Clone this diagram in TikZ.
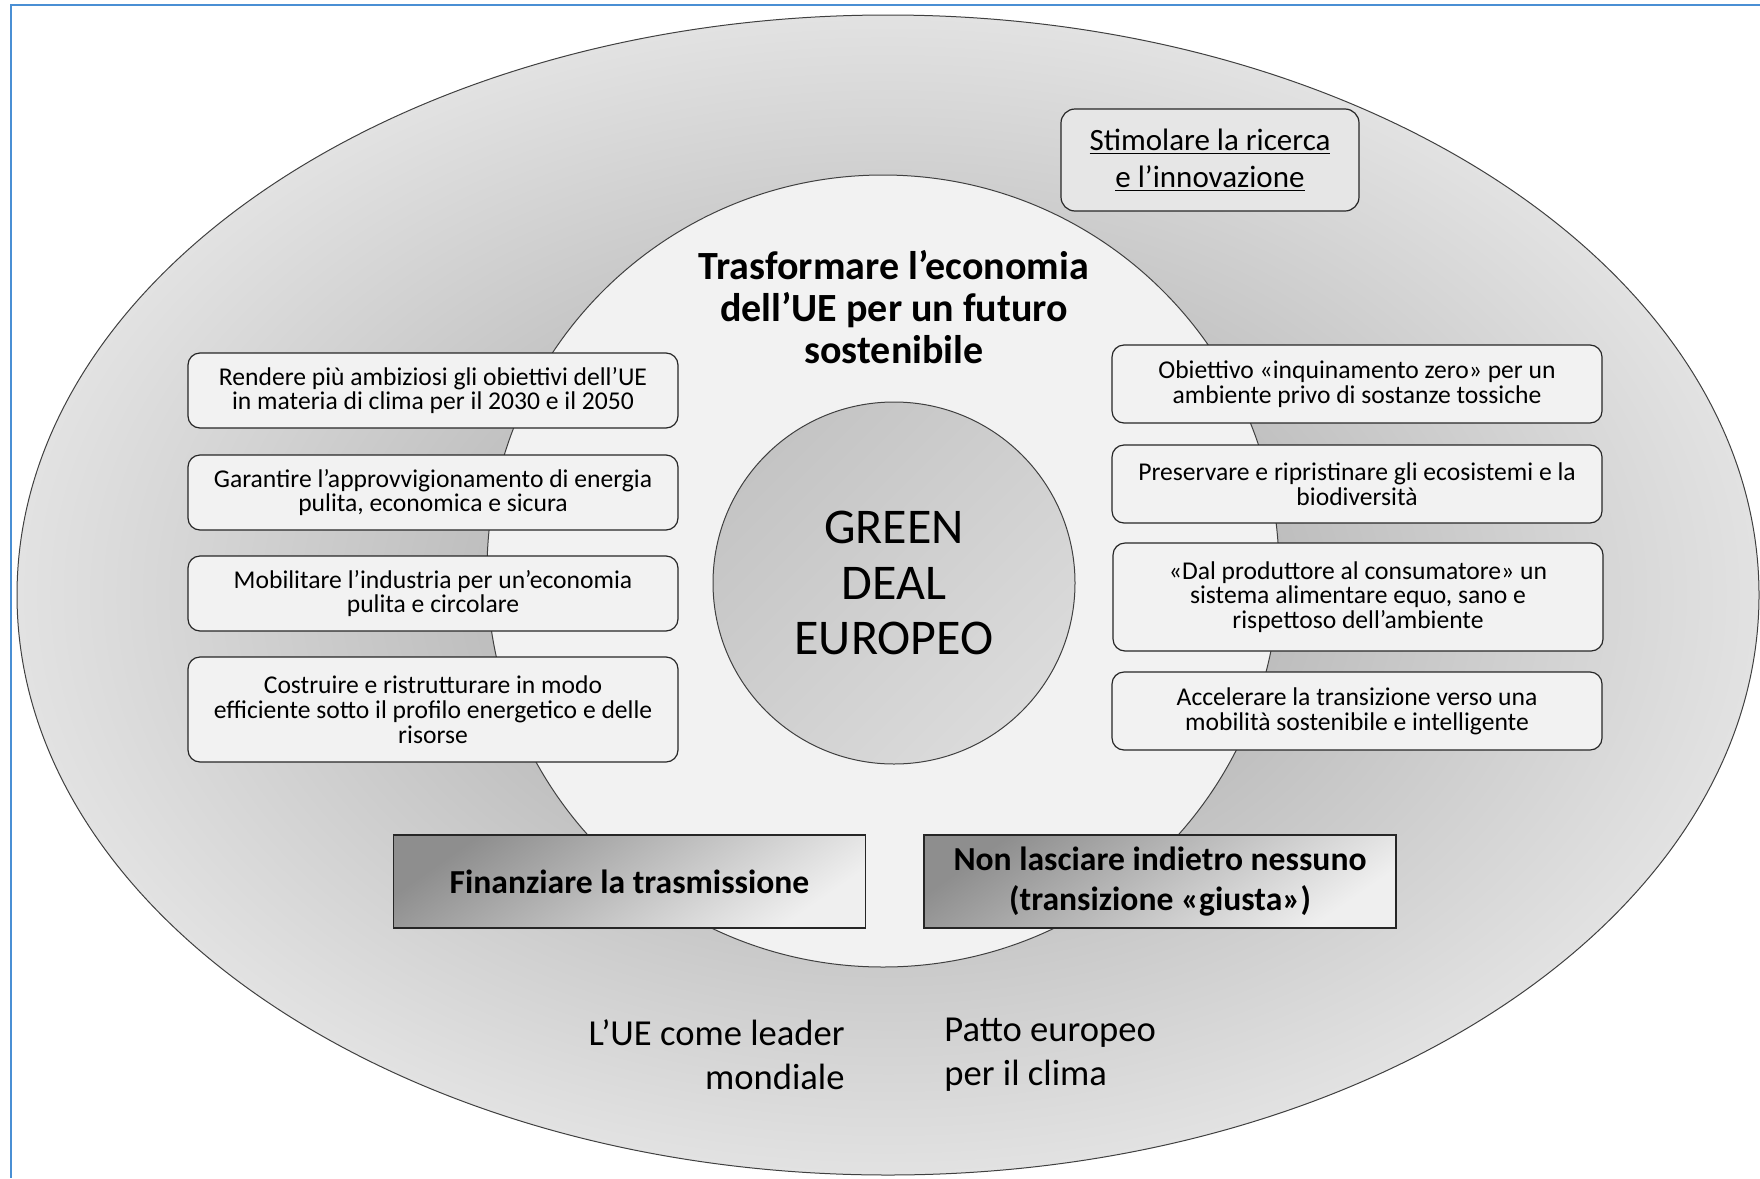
\documentclass[tikz,border=0pt]{standalone}
\usepackage{fontspec}
\setmainfont{Carlito}

\definecolor{framebl}{HTML}{4A8FD4}
\definecolor{ringin}{HTML}{A0A0A0}
\definecolor{ringout}{HTML}{E2E2E2}
\definecolor{discgr}{HTML}{F2F2F2}
\definecolor{stimgr}{HTML}{E6E6E6}
\definecolor{coretop}{HTML}{C4C4C4}
\definecolor{corebot}{HTML}{DBDBDB}
\definecolor{pilltop}{HTML}{8E8E8E}
\definecolor{pillbot}{HTML}{EFEFEF}

\begin{document}
\begin{tikzpicture}[x=0.5pt,y=-0.5pt,
    goal/.style={draw=black!85, fill=discgr, rounded corners=6pt, line width=0.6pt,
      align=center, minimum width=245pt, inner sep=0pt,
      font=\fontsize{12.8}{12.4}\selectfont},
    pillar/.style={draw=black!85, line width=0.6pt, top color=pilltop,
      bottom color=pillbot, shading angle=35, align=center,
      minimum width=236pt, minimum height=46.5pt, inner sep=0pt,
      font=\bfseries\fontsize{16.8}{20.2}\selectfont},
    loose/.style={inner sep=0pt, font=\fontsize{18.3}{22}\selectfont}]
    \useasboundingbox (0,0) rectangle (1760,1178);
    \draw[framebl, line width=0.8pt] (1760,5) -- (11,5) -- (11,1178);

    % rings
    \shade[inner color=ringin, outer color=ringout, draw=black!75, line width=0.5pt]
      (888,595) ellipse [x radius=871, y radius=580];
    \draw[fill=discgr, draw=black!75, line width=0.5pt] (883,571) circle [radius=396];

    \node[circle, draw=black!75, line width=0.5pt, minimum size=181pt, inner sep=0pt,
      top color=coretop, bottom color=corebot, shading angle=45, align=center,
      font=\fontsize{25}{27.75}\selectfont] (GDE) at (894,583) {GREEN\\DEAL\\EUROPEO};
    \node[align=center, font=\bfseries\fontsize{20}{21}\selectfont] (TEF) at (894,307)
      {Trasformare l’economia\\dell’UE per un futuro\\sostenibile};

    \node[draw=black!85, fill=stimgr, rounded corners=7pt, line width=0.6pt, align=center,
      minimum width=149pt, minimum height=51pt, inner sep=0pt,
      font=\fontsize{15.5}{18.5}\selectfont] (SRI) at (1210,160)
      {\underline{Stimolare la ricerca}\\\underline{e l’innovazione}};

    \node[goal, minimum height=37.5pt] (CLI) at (433,390.5)
      {Rendere più ambiziosi gli obiettivi dell’UE\\in materia di clima per il 2030 e il 2050};
    \node[goal, minimum height=37.5pt] (ENE) at (433,492.5)
      {Garantire l’approvvigionamento di energia\\pulita, economica e sicura};
    \node[goal, minimum height=37.5pt] (IND) at (433,593.5)
      {Mobilitare l’industria per un’economia\\pulita e circolare};
    \node[goal, minimum height=52.5pt] (EDI) at (433,709.5)
      {Costruire e ristrutturare in modo\\efficiente sotto il profilo energetico e delle\\risorse};

    \node[goal, minimum height=39pt] (INQ) at (1357,384)
      {Obiettivo «inquinamento zero» per un\\ambiente privo di sostanze tossiche};
    \node[goal, minimum height=39pt] (ECO) at (1357,484)
      {Preservare e ripristinare gli ecosistemi e la\\biodiversità};
    \node[goal, minimum height=54pt] (ALI) at (1358,597)
      {«Dal produttore al consumatore» un\\sistema alimentare equo, sano e\\rispettoso dell’ambiente};
    \node[goal, minimum height=39pt] (MOB) at (1357,711)
      {Accelerare la transizione verso una\\mobilità sostenibile e intelligente};

    \node[pillar] (FIN) at (629.5,881.5) {Finanziare la trasmissione};
    \node[pillar] (NLI) at (1160,881.5) {Non lasciare indietro nessuno\\(transizione «giusta»)};

    \node[loose, anchor=east, align=right] (LEA) at (845,1055) {L’UE come leader\\mondiale};
    \node[loose, anchor=west, align=left] (PAT) at (944,1055) {Patto europeo\\per il clima};
  \end{tikzpicture}
\end{document}
